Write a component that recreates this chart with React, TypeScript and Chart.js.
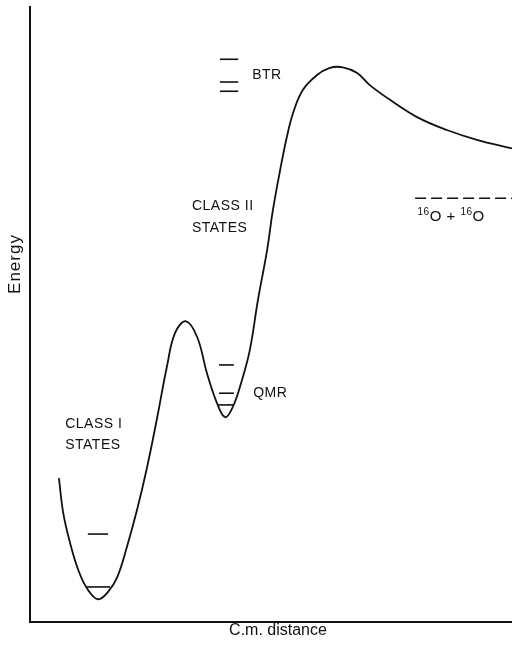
import React, { useEffect, useRef } from "react";
import { Chart, registerables } from "chart.js";

Chart.register(...registerables);

// Potential curve (C.m. distance, Energy) in arbitrary units 0..100
const curveX = [6.0, 6.9, 8.3, 10.0, 11.8, 14.1, 16.2, 18.1, 20.1, 22.2, 24.3, 26.4, 28.4, 30.1, 32.4, 34.7, 36.7, 38.8, 40.5, 42.1, 44.0, 45.6, 47.3, 49.2, 50.4, 51.9, 53.3, 54.6, 56.6, 59.5, 62.2, 64.9, 67.8, 70.5, 74.7, 80.3, 86.5, 92.7, 100];
const curveY = [23.4, 17.7, 12.9, 8.5, 5.5, 3.7, 4.9, 7.3, 12.2, 18.2, 25.2, 33.3, 41.5, 47.0, 48.9, 46.3, 40.5, 35.6, 33.3, 35.0, 39.4, 44.2, 52.4, 60.5, 67.0, 73.5, 78.9, 82.8, 86.5, 88.9, 90.1, 90.2, 89.3, 87.3, 84.9, 82.1, 80.0, 78.4, 77.0];

// Energy levels: [x start, x end, energy]
const levelStart = [12.0, 11.8, 39.2, 39.2, 39.0, 39.4, 39.4, 39.4];
const levelEnd = [16.2, 16.6, 42.3, 42.3, 42.3, 43.2, 43.2, 43.2];
const levelEnergy = [14.3, 5.7, 41.8, 37.2, 35.3, 91.5, 87.8, 86.3];

// Asymptotic 16O + 16O threshold
const thresholdX = [79.9, 100];
const thresholdY = [68.9, 68.9];

const axisTitleX = "C.m. distance";
const axisTitleY = "Energy";

type Note = { lines: string[]; x: number; y: number };
const notes: Note[] = [
  { lines: ["CLASS I", "STATES"], x: 7.3, y: 32.2 },
  { lines: ["CLASS II", "STATES"], x: 33.6, y: 67.6 },
  { lines: ["QMR"], x: 46.3, y: 37.2 },
  { lines: ["BTR"], x: 46.1, y: 88.9 },
];

const FONT = "'Liberation Sans', Arial, sans-serif";

export default function App() {
  const ref = useRef<HTMLCanvasElement | null>(null);

  useEffect(() => {
    document.body.style.margin = "0";
    const canvas = ref.current;
    if (!canvas) return;

    const datasets: any[] = [
      {
        data: curveX.map((x, i) => ({ x, y: curveY[i] })),
        borderColor: "#111",
        borderWidth: 1.8,
        pointRadius: 0,
        tension: 0.4,
        fill: false,
      },
    ];
    levelEnergy.forEach((e, i) => {
      datasets.push({
        data: [
          { x: levelStart[i], y: e },
          { x: levelEnd[i], y: e },
        ],
        borderColor: "#111",
        borderWidth: 1.6,
        pointRadius: 0,
        fill: false,
      });
    });
    datasets.push({
      data: thresholdX.map((x, i) => ({ x, y: thresholdY[i] })),
      borderColor: "#111",
      borderWidth: 1.6,
      borderDash: [11, 5],
      pointRadius: 0,
      fill: false,
    });

    const textPlugin = {
      id: "texts",
      afterDraw(chart: any) {
        const ctx = chart.ctx as CanvasRenderingContext2D;
        const xs = chart.scales.x;
        const ys = chart.scales.y;
        ctx.save();
        ctx.fillStyle = "#111";
        ctx.textBaseline = "middle";
        ctx.textAlign = "left";
        ctx.font = `14px ${FONT}`;
        (ctx as any).letterSpacing = "0.5px";
        notes.forEach((n) => {
          const px = xs.getPixelForValue(n.x);
          const py = ys.getPixelForValue(n.y);
          n.lines.forEach((l, k) => ctx.fillText(l, px, py + k * 21.5));
        });
        // 16O + 16O label
        let px = xs.getPixelForValue(80.4);
        const py = ys.getPixelForValue(65.9);
        const parts: [string, boolean][] = [
          ["16", true],
          ["O", false],
          [" + ", false],
          ["16", true],
          ["O", false],
        ];
        parts.forEach(([t, sup]) => {
          ctx.font = sup ? `10px ${FONT}` : `15px ${FONT}`;
          ctx.fillText(t, px, sup ? py - 4 : py);
          px += ctx.measureText(t).width;
        });
        (ctx as any).letterSpacing = "0px";
        // axis titles
        ctx.font = `16px ${FONT}`;
        ctx.textAlign = "center";
        ctx.fillText(axisTitleX, (xs.left + xs.right) / 2 + 7, ys.bottom + 9);
        ctx.save();
        ctx.font = `17px ${FONT}`;
        (ctx as any).letterSpacing = "1px";
        ctx.translate(15, 264);
        ctx.rotate(-Math.PI / 2);
        ctx.fillText(axisTitleY, 0, 0);
        ctx.restore();
        ctx.restore();
      },
    };

    const chart = new Chart(canvas, {
      type: "line",
      data: { datasets },
      options: {
        animation: false,
        responsive: false,
        maintainAspectRatio: false,
        devicePixelRatio: 1,
        layout: { padding: { left: 30, top: 7, right: 0, bottom: 24 } },
        plugins: {
          legend: { display: false },
          tooltip: { enabled: false },
          title: { display: false },
        },
        scales: {
          x: {
            type: "linear",
            min: 0,
            max: 100,
            ticks: { display: false },
            grid: { display: false, drawTicks: false },
            border: { display: true, color: "#111", width: 2 },
          },
          y: {
            type: "linear",
            min: 0,
            max: 100,
            ticks: { display: false },
            grid: { display: false, drawTicks: false },
            border: { display: true, color: "#111", width: 2 },
          },
        },
      } as any,
      plugins: [textPlugin],
    });
    return () => chart.destroy();
  }, []);

  return (
    <div style={{ position: "fixed", left: 0, top: 0, width: 512, height: 646, background: "#fff" }}>
      <canvas ref={ref} width={512} height={646} style={{ width: 512, height: 646 }} />
    </div>
  );
}
